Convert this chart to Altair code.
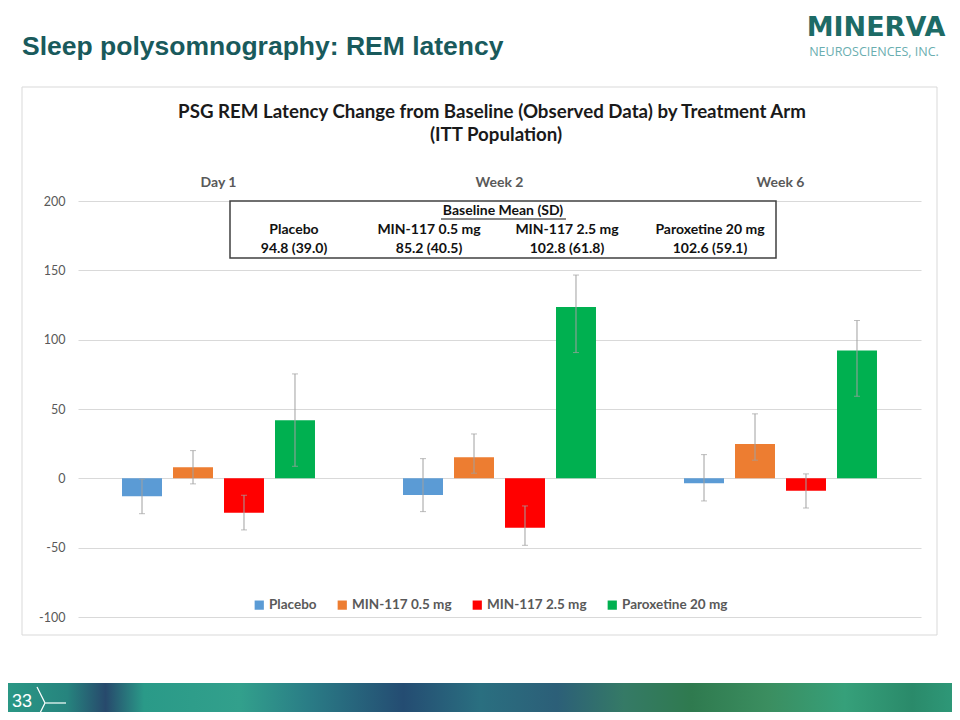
import altair as alt
import pandas as pd

# ---------------- data ----------------
periods = ["Day 1", "Week 2", "Week 6"]
arms = ["Placebo", "MIN-117 0.5 mg", "MIN-117 2.5 mg", "Paroxetine 20 mg"]
arm_colors = ["#5B9BD5", "#ED7D31", "#FF0000", "#00B050"]

placebo_mean = [-12.9, -12.0, -3.5]
placebo_lo = [-25.5, -24.0, -16.3]
placebo_hi = [-0.6, 14.2, 17.1]

min05_mean = [8.0, 15.2, 24.8]
min05_lo = [-4.0, 3.7, 13.1]
min05_hi = [20.0, 32.0, 46.5]

min25_mean = [-24.8, -35.6, -8.9]
min25_lo = [-37.2, -48.3, -21.4]
min25_hi = [-12.2, -19.9, 3.2]

parox_mean = [41.9, 123.5, 92.2]
parox_lo = [8.7, 90.7, 59.2]
parox_hi = [75.3, 146.6, 113.8]

baseline_mean = ["94.8", "85.2", "102.8", "102.6"]
baseline_sd = ["39.0", "40.5", "61.8", "59.1"]

y_ticks = [-100, -50, 0, 50, 100, 150, 200]

series = [
    (placebo_mean, placebo_lo, placebo_hi),
    (min05_mean, min05_lo, min05_hi),
    (min25_mean, min25_lo, min25_hi),
    (parox_mean, parox_lo, parox_hi),
]
rows = []
for arm, (m, lo, hi) in zip(arms, series):
    for i, p in enumerate(periods):
        rows.append({"period": p, "arm": arm, "value": m[i], "lo": lo[i], "hi": hi[i]})
df = pd.DataFrame(rows)

# ---------------- layout ----------------
OX, OY = 78, 201          # plot origin in slide pixels
PW, PH = 843, 416         # plot area size
one = pd.DataFrame({"a": [0]})

def X(v):
    return alt.value(v - OX)

def Y(v):
    return alt.value(v - OY)

def text(t, x, y, size, color, weight="normal", font="Lato", align="center"):
    return alt.Chart(one).mark_text(
        text=t, fontSize=size, color=color, fontWeight=weight, font=font,
        align=align, baseline="middle"
    ).encode(x=X(x), y=Y(y))

def rect(x1, y1, x2, y2, **kw):
    return alt.Chart(one).mark_rect(**kw).encode(x=X(x1), x2=X(x2), y=Y(y1), y2=Y(y2))

def line(x1, y1, x2, y2, color, width):
    return alt.Chart(one).mark_rule(color=color, strokeWidth=width).encode(
        x=X(x1), x2=X(x2), y=Y(y1), y2=Y(y2))

# background pieces
frame = rect(22, 87, 937, 635, fill="white", fillOpacity=0, stroke="#d9d9d9",
             strokeWidth=1)

strip_grad = alt.Gradient(
    gradient="linear", x1=0, y1=0, x2=1, y2=0,
    stops=[
        alt.GradientStop(color="#2b9a86", offset=0.0),
        alt.GradientStop(color="#26847e", offset=0.07),
        alt.GradientStop(color="#27496c", offset=0.11),
        alt.GradientStop(color="#2a9a88", offset=0.15),
        alt.GradientStop(color="#32a08c", offset=0.25),
        alt.GradientStop(color="#2a7d86", offset=0.32),
        alt.GradientStop(color="#244c72", offset=0.42),
        alt.GradientStop(color="#2a6f80", offset=0.5),
        alt.GradientStop(color="#2c5f78", offset=0.58),
        alt.GradientStop(color="#357a66", offset=0.65),
        alt.GradientStop(color="#2f7a4f", offset=0.72),
        alt.GradientStop(color="#3b8e60", offset=0.8),
        alt.GradientStop(color="#36a07a", offset=0.88),
        alt.GradientStop(color="#2a8a6a", offset=0.95),
        alt.GradientStop(color="#2f9a7a", offset=1.0),
    ],
)
strip = rect(0, 683, 960, 720, fill=strip_grad)

# ---------------- chart marks ----------------
color_scale = alt.Scale(domain=arms, range=arm_colors)
x_enc = alt.X(
    "period:N", sort=periods, title=None,
    scale=alt.Scale(paddingInner=0, paddingOuter=0),
    axis=alt.Axis(orient="top", labelFont="Lato", labelFontWeight="bold",
                  labelFontSize=14, labelColor="#595959", labelPadding=12,
                  ticks=False, domain=False, labelAngle=0),
)
xo_enc = alt.XOffset("arm:N", sort=arms,
                     scale=alt.Scale(paddingInner=0.216, paddingOuter=0.863))
y_scale = alt.Scale(domain=[-100, 200], nice=False, zero=False)

bars = alt.Chart(df).mark_bar().encode(
    x=x_enc,
    xOffset=xo_enc,
    y=alt.Y("value:Q", scale=y_scale, title=None,
            axis=alt.Axis(values=y_ticks, grid=True, gridColor="#d9d9d9",
                          domain=False, ticks=False, labelFont="Lato",
                          labelFontSize=12.5, labelColor="#595959",
                          labelPadding=13, labelExpr="'' + datum.value")),
    y2=alt.datum(0),
    color=alt.Color("arm:N", scale=color_scale, sort=arms,
                    legend=alt.Legend(title=None)),
)

err = alt.Chart(df).mark_rule(color="#a0a0a0", strokeWidth=1).encode(
    x=alt.X("period:N", sort=periods),
    xOffset=alt.XOffset("arm:N", sort=arms),
    y=alt.Y("lo:Q"),
    y2="hi:Q",
)
cap_lo = alt.Chart(df).mark_tick(color="#a0a0a0", thickness=1, size=6,
                                 orient="horizontal").encode(
    x=alt.X("period:N", sort=periods),
    xOffset=alt.XOffset("arm:N", sort=arms),
    y=alt.Y("lo:Q"),
)
cap_hi = alt.Chart(df).mark_tick(color="#a0a0a0", thickness=1, size=6,
                                 orient="horizontal").encode(
    x=alt.X("period:N", sort=periods),
    xOffset=alt.XOffset("arm:N", sort=arms),
    y=alt.Y("hi:Q"),
)

# ---------------- texts ----------------
layers = [frame, strip, bars, err, cap_lo, cap_hi]

layers.append(text("Sleep polysomnography: REM latency", 22, 47, 26.5, "#195a5c",
                   weight="bold", font="Liberation Sans", align="left"))
layers.append(text("MINERVA", 876, 28, 27, "#1d6b66", weight="bold", font="DejaVu Sans"))
layers.append(text("NEUROSCIENCES, INC.", 874, 52, 12.5, "#6aaeb0", font="Open Sans"))

layers.append(text("PSG REM Latency Change from Baseline (Observed Data) by Treatment Arm",
                   492, 112, 18.7, "#1a1a1a", weight="bold"))
layers.append(text("(ITT Population)", 496, 135, 18.7, "#1a1a1a", weight="bold"))

# baseline table
layers.append(rect(230, 201, 776, 258, fill="white", stroke="#404040", strokeWidth=1.5))
layers.append(text("Baseline Mean (SD)", 503, 211, 14, "#111111", weight="bold"))
layers.append(line(441, 219, 566, 219, "#111111", 1))
col_x = [294, 429, 567, 710]
for i, arm in enumerate(arms):
    layers.append(text(arm, col_x[i], 230, 14, "#111111", weight="bold"))
    layers.append(text(f"{baseline_mean[i]} ({baseline_sd[i]})", col_x[i], 249, 14,
                       "#111111", weight="bold"))

# footer
layers.append(text("33", 22, 702, 18, "white", font="Liberation Sans"))
layers.append(line(37, 687, 45, 703, "white", 1.2))
layers.append(line(45, 703, 37, 719, "white", 1.2))
layers.append(line(45, 703, 66, 703, "#cfe8e4", 1.5))

chart = alt.layer(*layers).properties(
    width=PW, height=PH,
    padding={"left": OX - 8, "top": OY - 8, "right": 944 - (OX - 8) - PW,
             "bottom": 704 - (OY - 8) - PH},
    autosize=alt.AutoSizeParams(type="none"),
).configure_view(stroke=None).configure_legend(
    orient="none", legendX=252.5 - OX, legendY=598 - OY,
    direction="horizontal", symbolType="square", symbolSize=85,
    symbolStrokeWidth=0, labelFont="Lato", labelFontWeight="bold",
    labelFontSize=13.5, labelColor="#595959", columnPadding=18, labelOffset=3,
)

chart.save("out.html", embed_options={"renderer": "svg", "actions": False})
